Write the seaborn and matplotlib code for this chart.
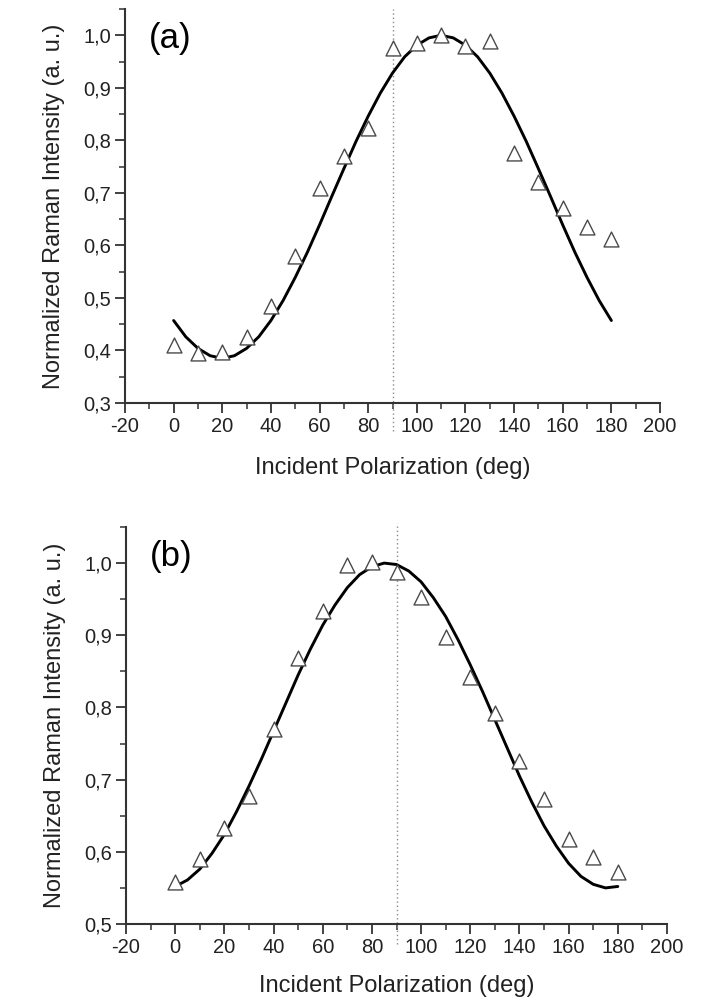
import numpy as np
import pandas as pd
import matplotlib
matplotlib.use("Agg")
import matplotlib.pyplot as plt
import seaborn as sns
from matplotlib.ticker import MultipleLocator, FuncFormatter

# ---- data ----
angles = [0, 10, 20, 30, 40, 50, 60, 70, 80, 90, 100, 110, 120, 130, 140, 150, 160, 170, 180]
int_a = [0.410, 0.395, 0.397, 0.425, 0.485, 0.580, 0.710, 0.770, 0.823, 0.975,
         0.985, 1.000, 0.980, 0.990, 0.775, 0.720, 0.672, 0.635, 0.612]
int_b = [0.558, 0.590, 0.633, 0.678, 0.770, 0.868, 0.934, 0.998, 1.001, 0.987,
         0.953, 0.898, 0.842, 0.793, 0.726, 0.673, 0.618, 0.593, 0.572]

fit_x = [0, 5, 10, 15, 20, 25, 30, 35, 40, 45, 50, 55, 60, 65, 70, 75, 80, 85, 90,
         95, 100, 105, 110, 115, 120, 125, 130, 135, 140, 145, 150, 155, 160, 165, 170, 175, 180]
fit_a = [0.457, 0.426, 0.404, 0.390, 0.385, 0.390, 0.404, 0.426, 0.457, 0.495,
         0.539, 0.587, 0.639, 0.693, 0.746, 0.798, 0.846, 0.890, 0.928, 0.959,
         0.981, 0.995, 1.000, 0.995, 0.981, 0.959, 0.928, 0.890, 0.846, 0.798,
         0.746, 0.693, 0.639, 0.587, 0.539, 0.495, 0.457]
fit_b = [0.552, 0.561, 0.576, 0.598, 0.624, 0.656, 0.691, 0.728, 0.767, 0.806,
         0.845, 0.881, 0.914, 0.942, 0.966, 0.984, 0.995, 1.000, 0.998, 0.989,
         0.974, 0.952, 0.926, 0.894, 0.859, 0.822, 0.783, 0.744, 0.705, 0.669,
         0.636, 0.608, 0.584, 0.566, 0.555, 0.550, 0.552]

x_ticks = [-20, 0, 20, 40, 60, 80, 100, 120, 140, 160, 180, 200]
yticks_a = [0.3, 0.4, 0.5, 0.6, 0.7, 0.8, 0.9, 1.0]
yticks_b = [0.5, 0.6, 0.7, 0.8, 0.9, 1.0]
panel_labels = ["(a)", "(b)"]
xlabel = "Incident Polarization (deg)"
ylabel = "Normalized Raman Intensity (a. u.)"
ref_angle = 90

sns.set_style("ticks")
plt.rcParams["font.family"] = ["Liberation Sans", "DejaVu Sans"]
plt.rcParams["axes.unicode_minus"] = False

fig = plt.figure(figsize=(7.28, 10), dpi=100)
ax_a = fig.add_axes([125 / 728, 1 - 403 / 1000, 535 / 728, 394 / 1000])
ax_b = fig.add_axes([126 / 728, 1 - 924 / 1000, 541 / 728, 397 / 1000])

comma = FuncFormatter(lambda v, p: f"{v:.1f}".replace(".", ","))

configs = [
    (ax_a, int_a, fit_a, yticks_a, (0.3, 1.05), -0.07, 1.0, 15),
    (ax_b, int_b, fit_b, yticks_b, (0.5, 1.05), -0.05, 1.01, 13),
]

for i, (ax, pts, fit, yt, ylim, vmin, vmax, xpad) in enumerate(configs):
    df_pts = pd.DataFrame({"angle": angles, "intensity": pts})
    df_fit = pd.DataFrame({"angle": fit_x, "intensity": fit})
    ax.axvline(ref_angle, ymin=vmin, ymax=vmax, color="#8a8a8a", ls=(0, (1.0, 2.0)),
               lw=1.0, clip_on=False, zorder=1)
    sns.lineplot(data=df_fit, x="angle", y="intensity", ax=ax, color="black",
                 lw=2.1, zorder=3)
    sns.scatterplot(data=df_pts, x="angle", y="intensity", ax=ax, marker="^",
                    s=115, facecolor="white", edgecolor="#4a4a4a", linewidth=1.0,
                    zorder=4)
    ax.set_xlim(-20, 200)
    ax.set_ylim(*ylim)
    ax.set_xticks(x_ticks)
    ax.set_yticks(yt)
    ax.xaxis.set_minor_locator(MultipleLocator(10))
    ax.yaxis.set_minor_locator(MultipleLocator(0.05))
    ax.yaxis.set_major_formatter(comma)
    for s in ["top", "right"]:
        ax.spines[s].set_visible(False)
    for s in ["left", "bottom"]:
        ax.spines[s].set_color("#333333")
        ax.spines[s].set_linewidth(1.5)
    ax.tick_params(which="major", direction="out", length=7, width=1.3,
                   color="#333333", labelsize=14.5, labelcolor="#222222", pad=3)
    ax.tick_params(which="minor", direction="out", length=4, width=1.1, color="#333333")
    ax.set_xlabel(xlabel, fontsize=17, color="#222222", labelpad=xpad)
    ax.set_ylabel(ylabel, fontsize=17, color="#222222", labelpad=13)
    ax.text(0.045, 0.925, panel_labels[i], transform=ax.transAxes, fontsize=25,
            va="center", ha="left", color="black")

fig.savefig("out.png", dpi=100)
